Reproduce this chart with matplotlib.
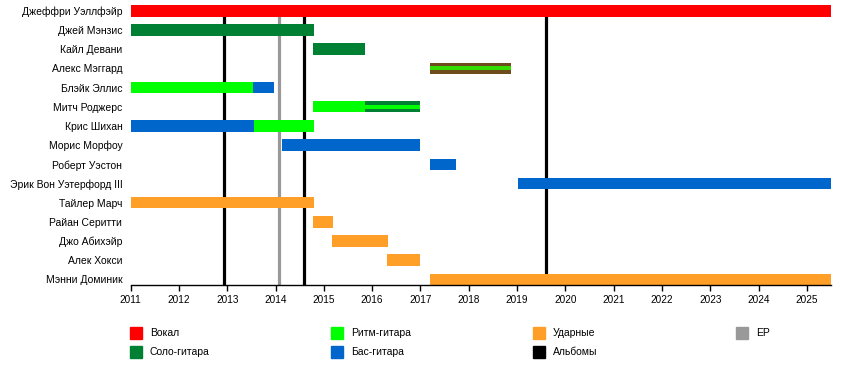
import matplotlib
matplotlib.use("Agg")
import matplotlib.pyplot as plt
from matplotlib.patches import Rectangle

plt.rcParams['font.family'] = ['Liberation Sans', 'DejaVu Sans']

members = ["Джеффри Уэллфэйр", "Джей Мэнзис", "Кайл Девани", "Алекс Мэггард",
           "Блэйк Эллис", "Митч Роджерс", "Крис Шихан", "Морис Морфоу",
           "Роберт Уэстон", "Эрик Вон Уэтерфорд III", "Тайлер Марч",
           "Райан Серитти", "Джо Абихэйр", "Алек Хокси", "Мэнни Доминик"]

END = 2025.5
# (member index, start, end, role, secondary role for stripe or None)
spans = [
    (0, 2011.0, END, "vocal", None),
    (1, 2011.0, 2014.80, "lead", None),
    (2, 2014.78, 2015.86, "lead", None),
    (3, 2017.19, 2018.87, "brown", "rhythm2"),
    (4, 2011.0, 2013.53, "rhythm", None),
    (4, 2013.53, 2013.96, "bass", None),
    (5, 2014.78, 2015.85, "rhythm", None),
    (5, 2015.85, 2017.0, "lead", "rhythm"),
    (6, 2011.0, 2013.55, "bass", None),
    (6, 2013.55, 2014.80, "rhythm", None),
    (7, 2014.13, 2017.0, "bass", None),
    (8, 2017.19, 2017.73, "bass", None),
    (9, 2019.02, END, "bass", None),
    (10, 2011.0, 2014.80, "drums", None),
    (11, 2014.78, 2015.19, "drums", None),
    (12, 2015.17, 2016.33, "drums", None),
    (13, 2016.31, 2017.0, "drums", None),
    (14, 2017.19, END, "drums", None),
]

albums = [2012.93, 2014.58, 2019.59]
eps = [2014.07]

colors = {"vocal": "#ff0000", "lead": "#008033", "rhythm": "#00ff00",
          "rhythm2": "#33dd00", "bass": "#0066cc", "drums": "#ff9f27",
          "album": "#000000", "ep": "#999999", "brown": "#6e4b1c"}

legend_labels = ["Вокал", "Соло-гитара", "Ритм-гитара", "Бас-гитара",
                 "Ударные", "Альбомы", "EP"]
legend_keys = ["vocal", "lead", "rhythm", "bass", "drums", "album", "ep"]

years = list(range(2011, 2026))

fig = plt.figure(figsize=(8.5, 3.65), dpi=100)
ax = fig.add_axes([130.7/850, 1-285/365, (831-130.7)/850, (285-5)/365])

for x in albums:
    ax.axvline(x, color=colors["album"], lw=2.3, zorder=1)
for x in eps:
    ax.axvline(x, color=colors["ep"], lw=2.3, zorder=1)

h = 0.6
for i, s, e, role, sec in spans:
    ax.barh(i, e - s, left=s, height=h, color=colors[role], zorder=2,
            linewidth=0)
    if sec:
        ax.barh(i, e - s, left=s, height=h*0.33, color=colors[sec], zorder=3,
                linewidth=0)

ax.set_xlim(2011, END)
ax.set_ylim(14.29, -0.3)
ax.set_yticks(range(len(members)))
ax.set_yticklabels(members, fontsize=7.5)
ax.tick_params(axis='y', length=0, pad=6)
ax.set_xticks(years)
ax.set_xticklabels([str(y) for y in years], fontsize=7.2)
ax.tick_params(axis='x', length=4, width=1, pad=3.5)
for sp in ["left", "right", "top"]:
    ax.spines[sp].set_visible(False)
ax.spines["bottom"].set_linewidth(1)

# legend
col_x = [130, 331, 533, 736]
row_y = [333, 352]
for k, (lab, key) in enumerate(zip(legend_labels, legend_keys)):
    c, r = divmod(k, 2)
    x0 = col_x[c]
    yc = row_y[r]
    fig.add_artist(Rectangle((x0/850, 1-(yc+6)/365), 12/850, 12/365,
                             transform=fig.transFigure, color=colors[key]))
    fig.text((x0+20)/850, 1-yc/365, lab, fontsize=7.5, va='center', ha='left')

fig.savefig("out.png", dpi=100)
